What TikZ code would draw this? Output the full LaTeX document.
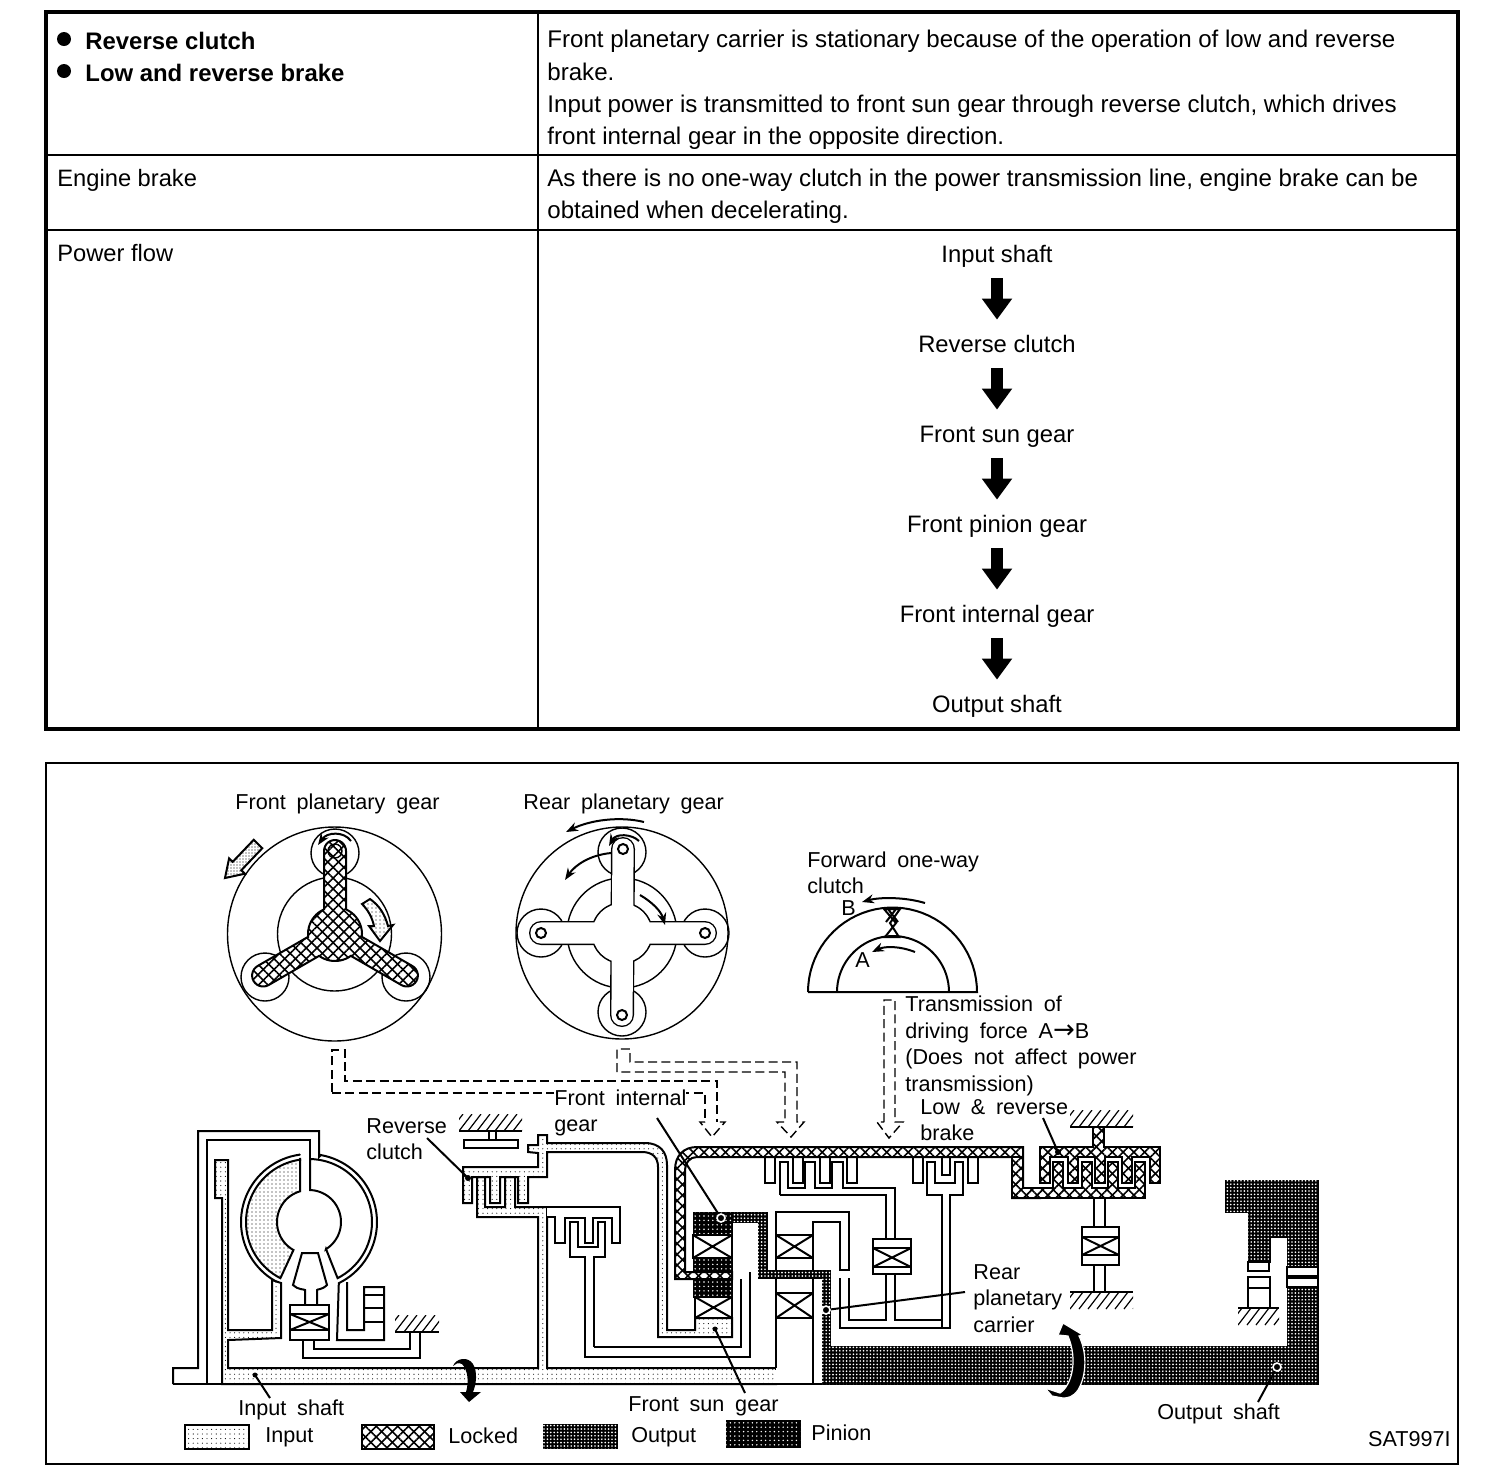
\documentclass[tikz,border=0pt]{standalone}
\usepackage{fontspec}
\setmainfont{Liberation Sans}
\newfontfamily\djv{DejaVu Sans}
\usetikzlibrary{patterns.meta,arrows.meta}
\newcommand\lblfont{\fontsize{10.8}{13.25}\selectfont\setlength{\spaceskip}{5.4pt}}
\tikzset{
 ln/.style={draw=black,line width=1pt,line join=miter},
 thin ln/.style={draw=black,line width=.6pt},
 hair/.style={draw=black,line width=.7pt},
 inpf/.style={ln,fill=white,postaction={pattern={Dots[distance=2.3pt,radius=.28pt]},pattern color=black}},
 lockf/.style={ln,fill=white,postaction={pattern={Lines[angle=45,distance=3.8pt,line width=.8pt]},pattern color=black},postaction={pattern={Lines[angle=-45,distance=3.8pt,line width=.8pt]},pattern color=black}},
 outf/.style={draw=black,line width=.5pt,fill=black,postaction={pattern={Dots[distance=1.7pt,radius=.46pt]},pattern color=white}},
 pinf/.style={draw=black,line width=.5pt,fill=black,postaction={pattern={Dots[distance=2.2pt,radius=.4pt]},pattern color=white}},
 tbl/.style={anchor=west,inner sep=0pt,align=left,font=\fontsize{12.05}{16.2}\selectfont},
 tblc/.style={anchor=west,inner sep=0pt,align=left,font=\fontsize{11.85}{16}\selectfont},
 tblb/.style={anchor=west,inner sep=0pt,align=left,font=\fontsize{11.95}{16}\selectfont\bfseries},
 flow/.style={inner sep=0pt,minimum height=24pt,text height=8.6pt,text depth=.6pt,font=\fontsize{11.9}{16}\selectfont},
 flowarrow/.style={line width=6pt,-{Triangle[length=10.5pt,width=14.5pt]},draw=black},
 lbl/.style={anchor=west,inner sep=0pt,align=left,font=\lblfont},
 leader/.style={draw=black,line width=1pt},
 dash2/.style={draw=black,line width=.7pt,dash pattern=on 4.5pt off 2.2pt},
 blk/.style={draw=black,line width=1pt,-{Stealth[length=6pt,width=4.5pt]}}
}
\newcommand\xbox[4]{\draw[ln,fill=white] (#1,#2) rectangle (#3,#4); \draw[ln] (#1,#2)--(#3,#4) (#1,#4)--(#3,#2);}
\newcommand\hatchup[3]{\draw[ln] (#1,#3)--(#2,#3);\begin{scope}\clip (#1,#3) rectangle (#2,{#3-17});\foreach \t in {0,9,...,90}{\draw[thin ln] ({#1+\t-9},#3)--({#1+\t+4},{#3-17});}\end{scope}}
\newcommand\hatchdn[3]{\draw[ln] (#1,#3)--(#2,#3);\begin{scope}\clip (#1,#3) rectangle (#2,{#3+17});\foreach \t in {0,9,...,90}{\draw[thin ln] ({#1+\t+4},#3)--({#1+\t-9},{#3+17});}\end{scope}}
\newcommand\Yarm[5]{-- ({335+24.7*cos(#1)+11*cos(#1-90)},{934-24.7*sin(#1)-11*sin(#1-90)}) -- plot[domain=#2:#3,samples=15] ({335+83*cos(#1)+11*cos(\x)},{934-83*sin(#1)-11*sin(\x)}) -- plot[domain=#4:#5,samples=12] ({335+27*cos(\x)},{934-27*sin(\x)})}
\newcommand\arcp[5]{-- plot[domain=#4:#5,samples=40] ({#1+#3*cos(\x)},{#2-#3*sin(\x)})}
\begin{document}
\begin{tikzpicture}[x=.5pt,y=-.5pt]
\useasboundingbox (0,0) rectangle (1504,1480);
% ---------- table
\draw[draw=black,line width=2pt] (46,12) rectangle (1458,729);
\draw[ln] (538,12)--(538,729) (46,155)--(1458,155) (46,230)--(1458,230);
\fill (64,39) circle[radius=7] (64,71) circle[radius=7];
\node[tblb] (c1) at (85,56.5) {Reverse clutch\\Low and reverse brake};
\node[tbl] (c2) at (547,90) {Front planetary carrier is stationary because of the operation of low and reverse\\brake.\\Input power is transmitted to front sun gear through reverse clutch, which drives\\front internal gear in the opposite direction.};
\node[tblc] (c3) at (57,180) {Engine brake};
\node[tbl] (c4) at (547,196.5) {As there is no one-way clutch in the power transmission line, engine brake can be\\obtained when decelerating.};
\node[tblc] (c5) at (57,253) {Power flow};
\node[flow] (f1) at (997,254) {Input shaft};
\node[flow] (f2) at (997,344) {Reverse clutch};
\node[flow] (f3) at (997,434) {Front sun gear};
\node[flow] (f4) at (997,524) {Front pinion gear};
\node[flow] (f5) at (997,614) {Front internal gear};
\node[flow] (f6) at (997,704) {Output shaft};
\foreach \a/\b in {f1/f2,f2/f3,f3/f4,f4/f5,f5/f6}{\draw[flowarrow] (\a)--(\b);}
% ---------- frame
\draw[ln] (46,763) rectangle (1458,1464);
% ---------- front planetary gear
\node[lbl] (l1) at (235,804) {Front planetary gear};
\draw[hair] (334.5,934) circle[radius=107];
\draw[hair] (334.5,934) circle[radius=57];
\draw[hair] (335,853) circle[radius=24] (265,977) circle[radius=24] (406,977) circle[radius=24];
\draw[lockf] ({335+24.7*cos(90)+11*cos(0)},{934-24.7*sin(90)-11*sin(0)}) \Yarm{90}{0}{180}{114}{186} \Yarm{210}{120}{300}{234}{306} \Yarm{330}{240}{420}{354}{426} -- cycle;
\draw[hair] (335,851) circle[radius=7];
\draw[blk] (351,841) .. controls (344,831) and (327,832) .. (318,845);
\draw[ln,fill=white,postaction={pattern={Dots[distance=1.5pt,radius=.35pt]},pattern color=black}] (253.7,839.8)--(232.7,861.8)--(229.1,858.3)--(225,878)--(244.9,873.7)--(241.3,870.2)--(262.3,848.2)--cycle;
\draw[ln,fill=white,postaction={pattern={Dots[distance=2pt,radius=.3pt]},pattern color=black}] (362,904)--(370,899) .. controls (380,906) and (385,915) .. (388,926)--(393,925)--(380,941)--(369,926)--(374,926) .. controls (372,917) and (368,910) .. (362,904)--cycle;
% ---------- rear planetary gear
\node[lbl] (l2) at (523,804) {Rear planetary gear};
\draw[hair] (622,933) circle[radius=106];
\draw[hair] (622,933) circle[radius=55];
\draw[hair] (622,852) circle[radius=24] (622,1012) circle[radius=24] (541,933) circle[radius=24] (705,933) circle[radius=24];
\draw[black,line width=12pt,line cap=round] (623,849)--(622,1015) (541,933)--(705,933);
\fill[black] (622,933) circle[radius=31];
\draw[white,line width=10.6pt,line cap=round] (623,849)--(622,1015) (541,933)--(705,933);
\fill[white] (622,933) circle[radius=29.5];
\draw[ln,fill=white] (623,849) circle[radius=5] (622,1015) circle[radius=5] (541,933) circle[radius=5] (705,933) circle[radius=5];
\draw[blk] (644,822) .. controls (620,816) and (590,820) .. (566,832);
\draw[blk] (611,853) .. controls (590,855) and (575,865) .. (565,880);
\draw[blk] (640,895) .. controls (652,902) and (661,911) .. (665,925);
\draw[blk] (639,841) .. controls (632,834) and (616,833) .. (609,846);
% ---------- forward one-way clutch
\node[lbl] (l3) at (807,873) {Forward one-way\\clutch};
\node[lbl] (lB) at (841,908) {B};
\node[lbl] (lA) at (855,960) {A};
\draw[ln] (808,992) -- (977,992) \arcp{892.5}{992}{84.5}{0}{180} (837,992) \arcp{893}{992}{56}{180}{0};
\draw[ln] (884,909)--(900,909)--(890,923)--(899,937)--(885,937)--(896,923)--cycle (888,909)--(898,922) (896,909)--(886,922);
\draw[blk] (925,903) .. controls (905,897) and (880,897) .. (862,902);
\draw[blk] (915,952) .. controls (900,946) and (885,946) .. (872,952);
\node[lbl] (l4) at (905,1046) {Transmission of\\driving force A{\djv\fontsize{13}{13}\selectfont →}B\\(Does not affect power\\transmission)};
% ---------- dashed links
\draw[dash2] (332,1092) -- (332,1050) -- (345,1050) -- (345,1081) -- (717,1081) -- (717,1122);
\draw[dash2] (332,1093) -- (705,1093) -- (705,1122);
\draw[dash2] (705,1122) -- (700,1122) -- (712,1137) -- (725,1122) -- (717,1122);
\draw[dash2] (617,1072) -- (617,1049) -- (630,1049) -- (630,1062) -- (797,1062) -- (797,1122) -- (804,1122) -- (791,1137) -- (777,1122) -- (785,1122) -- (785,1072) -- cycle;
\draw[dash2] (884,1122) -- (884,1000) -- (895,1000) -- (895,1122) -- (903,1122) -- (889,1138) -- (877,1122) -- cycle;
% ---------- torque converter
\draw[ln,fill=white] (173,1384) -- (173,1368) -- (198,1368) -- (198,1131) -- (319,1131) -- (319,1157) \arcp{309}{1222}{68}{80}{-64} -- (337,1340) -- (384,1340) -- (384,1287) -- (364,1287) -- (364,1330) -- (347,1330) -- (347,1282);
\draw[ln,fill=white] (310,1161) \arcp{309}{1222}{63}{89}{-63} -- (326,1249) \arcp{309}{1222}{32}{-58}{88} -- cycle;
\draw[ln,fill=white,postaction={pattern={Dots[distance=2pt,radius=.3pt]},pattern color=black}] (300,1158) \arcp{309}{1222}{63}{98}{243} -- (293,1251) \arcp{309}{1222}{32}{241}{106} -- cycle;
\draw[ln] (300,1154) \arcp{309}{1222}{68}{98}{244};
\draw[ln] (310,1190) -- (310,1140) -- (207,1140) -- (207,1384);
\draw[inpf] (222,1384) -- (222,1198) -- (215,1198) -- (215,1160) -- (228,1160) -- (228,1330) -- (272,1330) -- (272,1280) -- (281,1283) -- (281,1338) -- (228,1340) -- (228,1368) -- (538,1368) -- (538,1217) -- (477,1217) -- (477,1177) -- (485,1177) -- (485,1207) -- (505,1207) -- (505,1177) -- (515,1177) -- (515,1207) -- (547,1207) -- (547,1368) -- (776,1368) -- (776,1384) -- cycle;
\draw[ln,fill=white] (776,1368) -- (776,1212) -- (849,1212) -- (849,1270) -- (840,1270) -- (840,1222) -- (813,1222) -- (813,1384) -- (776,1384);
\draw[white,line width=1.5pt] (776,1370)--(776,1383);
\draw[ln] (173,1384)--(822,1384);
% pump stem and bearing
\draw[ln,fill=white] (302,1253) -- (318,1253) -- (327,1285) .. controls (322,1290) and (317,1289) .. (317,1290) -- (317,1305) -- (305,1305) -- (305,1290) .. controls (304,1289) and (298,1290) .. (293,1285) -- cycle;
\draw[ln,fill=white] (290,1305) rectangle (329,1340);
\xbox{290}{1314}{329}{1330}
\draw[ln] (303,1340) -- (303,1358) -- (420,1358) -- (420,1332) (410,1332) -- (410,1349) -- (314,1349) -- (314,1340);
\hatchup{395}{439}{1332}
\draw[ln] (364,1295)--(384,1295) (364,1308)--(384,1308) (364,1322)--(384,1322);
% ---------- reverse clutch
\hatchup{459}{522}{1131}
\draw[ln,fill=white] (464,1140) rectangle (518,1148);
\draw[ln] (489,1131)--(489,1140) (496,1131)--(496,1140);
\draw[inpf] (463,1167) -- (538,1167) -- (538,1153) -- (528,1152) -- (528,1145) -- (538,1145) -- (538,1135) -- (547,1135) -- (547,1143) -- (645,1143) .. controls (660,1143) and (667,1152) .. (667,1165) -- (667,1330) -- (695,1330) -- (695,1318) -- (732,1318) -- (732,1337) -- (658,1337) -- (658,1167) .. controls (658,1157) and (652,1152) .. (642,1152) -- (547,1152) -- (547,1177) -- (528,1177) -- (528,1203) -- (518,1203) -- (518,1177) -- (500,1177) -- (500,1203) -- (490,1203) -- (490,1177) -- (472,1177) -- (472,1203) -- (463,1203) -- cycle;
% forward clutch
\draw[ln,fill=white] (547,1217) -- (555,1217) -- (555,1243) -- (565,1243) -- (565,1218) -- (585,1218) -- (585,1243) -- (593,1243) -- (593,1218) -- (612,1218) -- (612,1243) -- (620,1243) -- (620,1207) -- (547,1207);
\draw[ln] (594,1347) -- (594,1257) -- (605,1257) -- (605,1222) -- (598,1222) -- (598,1247) -- (578,1247) -- (578,1222) -- (570,1222) -- (570,1257) -- (585,1257) -- (585,1357) -- (750,1357) -- (750,1272);
\draw[ln] (594,1347) -- (741,1347) -- (741,1279);
% front hub
\draw[pinf] (693,1212) rectangle (732,1235);
\xbox{693}{1235}{732}{1258}
\draw[pinf] (693,1258) rectangle (732,1272);
\draw[pinf] (693,1279) rectangle (732,1297);
\xbox{695}{1297}{732}{1318}
% locked band left and top
\draw[ln,fill=white] (765,1157) -- (765,1183) -- (775,1183) -- (775,1157) (793,1157) -- (793,1183) -- (803,1183) -- (803,1157) (820,1157) -- (820,1183) -- (830,1183) -- (830,1157) (847,1157) -- (847,1183) -- (857,1183) -- (857,1157) (913,1157) -- (913,1183) -- (923,1183) -- (923,1157) (942,1157) -- (942,1175) -- (950,1175) -- (950,1157) (968,1157) -- (968,1183) -- (978,1183) -- (978,1157);
\draw[lockf] (732,1279) -- (675,1279) -- (675,1170) .. controls (675,1155) and (684,1147) .. (697,1147) -- (1023,1147) -- (1023,1188) -- (1040,1188) -- (1040,1198) -- (1012,1198) -- (1012,1157) -- (697,1157) .. controls (690,1157) and (685,1162) .. (685,1172) -- (685,1272) -- (732,1272) -- cycle;
% rear comb
\draw[ln] (780,1195) -- (780,1162) -- (788,1162) -- (788,1188) -- (805,1188) -- (805,1162) -- (815,1162) -- (815,1188) -- (832,1188) -- (832,1162) -- (843,1162) -- (843,1188) -- (895,1188) -- (895,1239);
\draw[ln] (780,1195) -- (886,1195) -- (886,1239);
\draw[ln] (942,1328) -- (942,1195) -- (927,1195) -- (927,1162) -- (935,1162) -- (935,1183) -- (955,1183) -- (955,1162) -- (963,1162) -- (963,1195) -- (950,1195) -- (950,1328) -- (840,1328) -- (840,1278);
\draw[ln] (849,1278) -- (849,1320) -- (886,1320) -- (886,1274) (895,1274) -- (895,1320) -- (942,1320);
\draw[ln,fill=white] (873,1239) rectangle (911,1274);
\xbox{873}{1248}{911}{1267}
% bearings of carrier
\xbox{776}{1235}{813}{1258}
\xbox{776}{1293}{813}{1318}
\draw[ln] (776,1258)--(776,1293) (813,1268)--(813,1384);
% output
\draw[outf] (732,1212) -- (767,1212) -- (767,1270) -- (830,1270) -- (830,1346) -- (1287,1346) -- (1287,1237) -- (1270,1237) -- (1270,1262) -- (1248,1262) -- (1248,1212) -- (1225,1212) -- (1225,1180) -- (1318,1180) -- (1318,1384) -- (822,1384) -- (822,1278) -- (758,1278) -- (758,1222) -- (732,1222) -- cycle;
\draw[ln,fill=white] (1287,1267) rectangle (1318,1276) (1287,1278) rectangle (1318,1287);
\draw[ln,fill=white] (1248,1262) rectangle (1269,1271);
\draw[ln,fill=white] (1248,1277) rectangle (1270,1308);
\draw[ln] (1248,1288)--(1270,1288);
\hatchdn{1238}{1279}{1308}
% low & reverse brake
\hatchup{1070}{1133}{1127}
\draw[lockf] (1093,1147) -- (1093,1127) -- (1104,1127) -- (1104,1147) -- (1160,1147) -- (1160,1183) -- (1150,1183) -- (1150,1157) -- (1132,1157) -- (1132,1183) -- (1122,1183) -- (1122,1157) -- (1105,1157) -- (1105,1183) -- (1095,1183) -- (1095,1157) -- (1078,1157) -- (1078,1183) -- (1068,1183) -- (1068,1157) -- (1050,1157) -- (1050,1183) -- (1040,1183) -- (1040,1147) -- cycle;
\draw[lockf] (1012,1157) -- (1012,1198) -- (1145,1198) -- (1145,1162) -- (1135,1162) -- (1135,1188) -- (1118,1188) -- (1118,1162) -- (1108,1162) -- (1108,1188) -- (1092,1188) -- (1092,1162) -- (1082,1162) -- (1082,1188) -- (1063,1188) -- (1063,1162) -- (1053,1162) -- (1053,1188) -- (1023,1188) -- (1023,1157) -- cycle;
\draw[ln,fill=white] (1094,1198) rectangle (1105,1227);
\draw[ln,fill=white] (1094,1265) rectangle (1105,1292);
\draw[ln,fill=white] (1082,1227) rectangle (1119,1265);
\xbox{1082}{1237}{1119}{1255}
\hatchdn{1070}{1133}{1292}
% big arrows
\fill[black] (453,1366) .. controls (456,1358) and (468,1356) .. (473,1364) .. controls (478,1372) and (476,1385) .. (473,1392) -- (481,1392) -- (469,1402) -- (460,1392) -- (466,1392) .. controls (469,1382) and (468,1370) .. (462,1364) .. controls (458,1362) and (455,1364) .. (453,1366) -- cycle;
\draw[white,line width=.6pt,fill=black] (1063,1323) -- (1083,1335) -- (1079,1336) .. controls (1087,1352) and (1087,1375) .. (1078,1390) .. controls (1073,1397) and (1068,1398) .. (1063,1398) -- (1052,1396) -- (1045,1388) -- (1060,1393) .. controls (1072,1385) and (1078,1360) .. (1068,1336) -- (1058,1335) -- cycle;
% ---------- labels and leaders
\node[lbl] (l5) at (366,1139) {Reverse\\clutch};
\node[lbl,fill=white] (l6) at (554,1113) {Front internal\\gear};
\node[lbl] (l7) at (920,1120) {Low \& reverse\\brake};
\node[lbl] (l8) at (973,1298.5) {Rear\\planetary\\carrier};
\node[lbl] (l9) at (238,1410) {Input shaft};
\node[lbl] (l10) at (628,1406) {Front sun gear};
\node[lbl] (l11) at (1157,1414) {Output shaft};
\coordinate (e5) at (427,1138); \coordinate (d5) at (468,1178);
\coordinate (e6) at (657,1118); \coordinate (d6) at (721,1218);
\coordinate (e7) at (1043,1118); \coordinate (d7) at (1058,1152);
\coordinate (e8) at (965,1292); \coordinate (d8) at (826,1310);
\coordinate (e9) at (270,1398); \coordinate (d9) at (255,1375);
\coordinate (e10) at (745,1393); \coordinate (d10) at (715,1329);
\coordinate (e11) at (1258,1402); \coordinate (d11) at (1277,1367);
\foreach \i in {5,6,7,8,9,10,11}{\draw[leader] (e\i)--(d\i);}
\fill (d5) circle[radius=3] (d7) circle[radius=3] (d9) circle[radius=2.5] (d10) circle[radius=2.5];
\draw[line width=.8pt,fill=black,draw=white] (d6) circle[radius=4] (d8) circle[radius=4];
\draw[line width=.8pt,fill=black,draw=white] (d11) circle[radius=4];
% ---------- legend
\draw[ln,fill=white,postaction={pattern={Dots[distance=2.3pt,radius=.28pt]},pattern color=black}] (185,1425) rectangle (249,1449);
\node[lbl] (k1) at (265,1437) {Input};
\draw[lockf] (362,1425) rectangle (434,1449);
\node[lbl] (k2) at (448,1436) {Locked};
\draw[outf] (543,1424) rectangle (617,1448);
\node[lbl] (k3) at (631,1437) {Output};
\draw[pinf] (726,1420) rectangle (800,1447);
\node[lbl] (k4) at (811,1433) {Pinion};
\node[lbl,anchor=east] (k5) at (1451,1439) {SAT997I};
\end{tikzpicture}
\end{document}
